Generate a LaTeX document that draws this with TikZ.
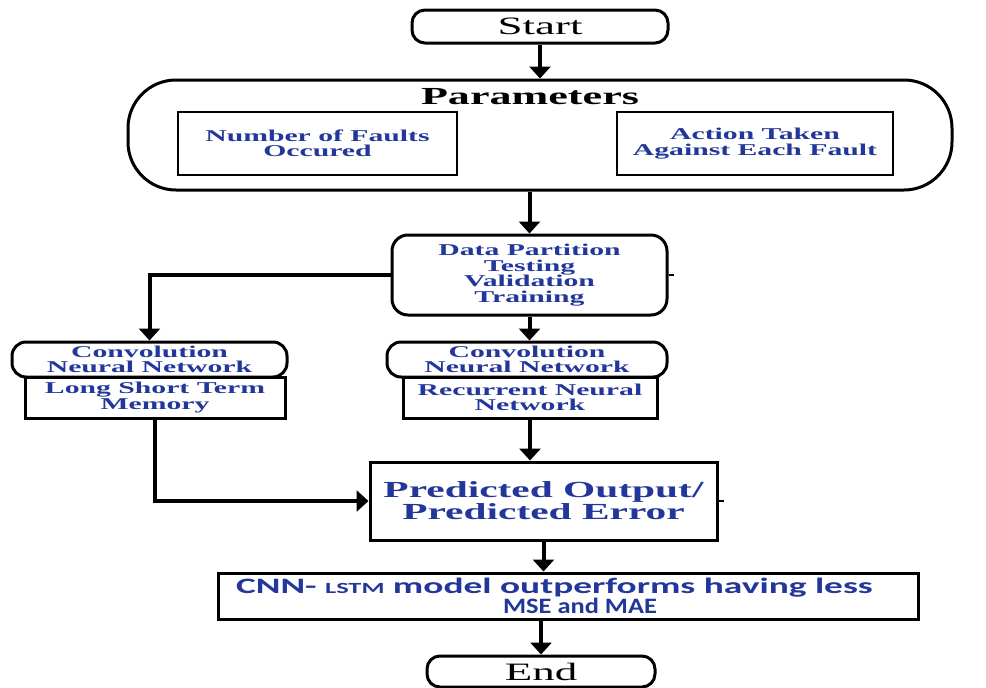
\documentclass[tikz,border=0pt]{standalone}
\usepackage{fontspec}
\setmainfont{Liberation Serif}
\newfontfamily\wideserif[FakeStretch=1.8]{Liberation Serif}
\newfontfamily\widesans[FakeStretch=1.7]{Carlito}
\newfontfamily\narrowsans[FakeStretch=1.2]{Carlito}
\usetikzlibrary{arrows.meta}
\definecolor{lblue}{RGB}{35,55,155}
\begin{document}
\begin{tikzpicture}[x=1pt,y=-1pt,
 box/.style={draw, line width=3pt, inner sep=0pt, align=center},
 rbox/.style={box, rounded corners=14pt},
 lbl/.style={text=lblue, font=\wideserif\bfseries\fontsize{16.5}{15.5}\selectfont},
 termtxt/.style={font=\wideserif\fontsize{25}{25}\selectfont},
 arr/.style={line width=4pt, -{Triangle[length=12pt,width=21pt]}},
 stub/.style={line width=2pt}]
\fill[white] (0,0) rectangle (986,688);
\useasboundingbox (0,0) rectangle (986,688);

\node[rbox, rounded corners=13pt, minimum width=256pt, minimum height=33pt, termtxt] (start) at (540,26.5) {Start};

\node[box, rounded corners=48pt, minimum width=824pt, minimum height=110pt] (params) at (540,135) {};
\node[font=\wideserif\bfseries\fontsize{24.5}{24.5}\selectfont] (ptitle) at (530,97) {Parameters};
\node[box, line width=2.4pt, minimum width=279pt, minimum height=63pt, lbl] (nf) at (317.5,143.5) {Number of Faults\\Occured};
\node[box, line width=2.4pt, minimum width=276pt, minimum height=63pt, lbl] (act) at (755,143.5) {Action Taken\\Against Each Fault};

\node[rbox, rounded corners=16pt, minimum width=275pt, minimum height=80pt, lbl] (dp) at (529.5,275) {Data Partition\\Testing\\Validation\\Training};

\node[rbox, minimum width=275pt, minimum height=35pt, lbl] (cnn1) at (149.5,359.5) {Convolution\\Neural Network};
\node[box, minimum width=260pt, minimum height=41pt, lbl] (lstm) at (155,397.5) {Long Short Term\\Memory};

\node[rbox, minimum width=280pt, minimum height=35pt, lbl] (cnn2) at (527,359.5) {Convolution\\Neural Network};
\node[box, minimum width=254pt, minimum height=41pt, lbl] (rnn) at (530,397.5) {Recurrent Neural\\Network};

\node[box, minimum width=347pt, minimum height=78pt, text=lblue, font=\wideserif\bfseries\fontsize{23}{22}\selectfont] (pred) at (543.5,501) {Predicted Output/\\Predicted Error};

\node[box, minimum width=700pt, minimum height=46pt, text=lblue, font=\widesans\bfseries\fontsize{22}{20.5}\selectfont] (concl) at (568,596) {CNN- {\fontsize{15.5}{15.5}\selectfont LSTM} model outperforms having less\hspace*{27pt}\\\hspace*{24pt}{\narrowsans\bfseries MSE and MAE}};

\node[rbox, rounded corners=13pt, minimum width=228pt, minimum height=31pt, termtxt] (end) at (541,671.5) {End};

\draw[arr] (start.south) -- (params.north);
\draw[arr] (params.south -| dp.center) -- (dp.north);
\draw[arr] (dp.south) -- (dp.south |- cnn2.north);
\draw[arr] (dp.west) -| (cnn1.north);
\draw[arr] (rnn.south) -- (rnn.south |- pred.north);
\draw[arr] (lstm.south) |- (pred.west);
\draw[arr] (pred.south) -- (pred.south |- concl.north);
\draw[arr] (end.north |- concl.south) -- (end.north);
\draw[stub] (dp.east) -- ++(5,0);
\draw[stub] (pred.east) -- ++(5,0);
\end{tikzpicture}
\end{document}
